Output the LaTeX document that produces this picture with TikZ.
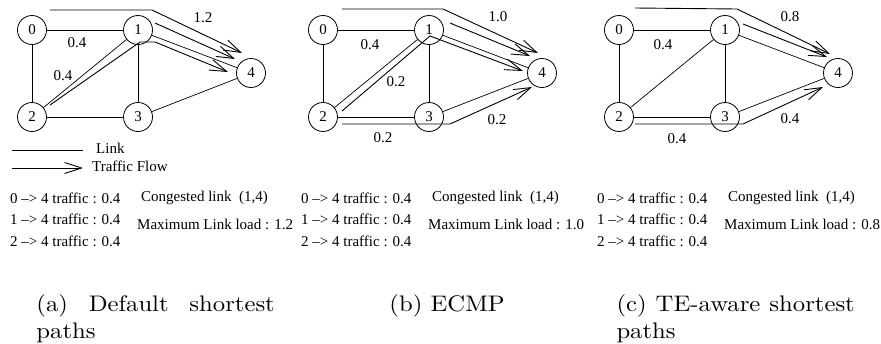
\documentclass[tikz,border=0pt]{standalone}
\usepackage{fontspec}
\newfontfamily\timesfont{Liberation Serif}
\usetikzlibrary{arrows.meta}

\begin{document}
\begin{tikzpicture}[x=1pt, y=-1pt,
    lbl/.style={font=\timesfont\fontsize{15}{18}\selectfont, inner sep=0pt},
    txt/.style={lbl, anchor=west},
    router/.style={lbl, draw, circle, line width=0.8pt, minimum size=29pt},
    link/.style={line width=0.7pt},
    flow/.style={line width=0.9pt, -{Straight Barb[length=17pt, width=11pt]}},
    capt/.style={xscale=2.47, yscale=2.25, inner sep=0pt, anchor=base west, font=\normalsize}]
  \useasboundingbox (0,0) rectangle (881,343);

  % same network and load summary in each panel
  \foreach \p/\sx/\load in {a/0/1.2, b/291/1.0, c/587/0.8} {
    \begin{scope}[xshift=\sx]
      \node[router] (\p0) at (32,30) {0};
      \node[router] (\p1) at (138,30) {1};
      \node[router] (\p2) at (32,117) {2};
      \node[router] (\p3) at (138,117) {3};
      \node[router] (\p4) at (251,73) {4};
      \foreach \u/\v in {0/1, 0/2, 2/1, 1/3, 2/3, 1/4, 3/4}
        \draw[link] (\p\u) -- (\p\v);

      \node[txt] (\p-t0) at (10,198) {0 –> 4 traffic : 0.4};
      \node[txt] (\p-t1) at (10,219.5) {1 –> 4 traffic : 0.4};
      \node[txt] (\p-t2) at (10,241) {2 –> 4 traffic : 0.4};
      \node[txt] (\p-cl) at (141,198) {Congested link~~(1,4)};
      \node[txt] (\p-ml) at (137,224) {Maximum Link load : \load};
    \end{scope}
  }

  % (a) default shortest paths
  \draw[flow] (50,10) -- (152,10) -- (242,53);
  \draw[flow] (155,23) -- (235,59);
  \draw[flow] (50,105) -- (140,42) -- (155,42) -- (228,72);
  \node[lbl] (a-w14) at (203,18) {1.2};
  \node[lbl] (a-w01) at (77,43) {0.4};
  \node[lbl] (a-w21) at (63,76) {0.4};

  \coordinate (lk0) at (12,150);
  \coordinate (lk1) at (83,150);
  \draw[link] (lk0) -- (lk1);
  \node[txt] (lk) at (96,148) {Link};
  \coordinate (fl0) at (12,168);
  \coordinate (fl1) at (83,168);
  \draw[flow] (fl0) -- (fl1);
  \node[txt] (fl) at (92,166) {Traffic Flow};

  % (b) ECMP
  \begin{scope}[xshift=291]
    \draw[flow] (51,9) -- (152,9) -- (247,53);
    \draw[flow] (159,23) -- (239,56);
    \draw[flow] (51,111) -- (139,36) -- (232,71);
    \draw[flow] (51,124) -- (159,124) -- (241,87);
    \node[lbl] (b-w14) at (207,17) {1.0};
    \node[lbl] (b-w01) at (79,45) {0.4};
    \node[lbl] (b-w21) at (105,82) {0.2};
    \node[lbl] (b-w23) at (92,138) {0.2};
    \node[lbl] (b-w34) at (206,120) {0.2};
  \end{scope}

  % (c) TE-aware shortest paths
  \begin{scope}[xshift=587]
    \draw[flow] (48,8) -- (150,9) -- (243,54);
    \draw[flow] (156,24) -- (240,57);
    \draw[flow] (48,124) -- (156,124) -- (236,87);
    \node[lbl] (c-w14) at (203,17) {0.8};
    \node[lbl] (c-w01) at (76,45) {0.4};
    \node[lbl] (c-w23) at (90,139) {0.4};
    \node[lbl] (c-w34) at (203,119) {0.4};
  \end{scope}

  \node[capt, text width=96.5pt, align=justify] (cap-a) at (36,311.5) {(a) Default shortest\linebreak paths};
  \node[capt] (cap-b) at (389,311.5) {(b) ECMP};
  \node[capt, text width=96.5pt, align=justify] (cap-c) at (616,311.5) {(c) TE-aware shortest\linebreak paths};
\end{tikzpicture}
\end{document}
